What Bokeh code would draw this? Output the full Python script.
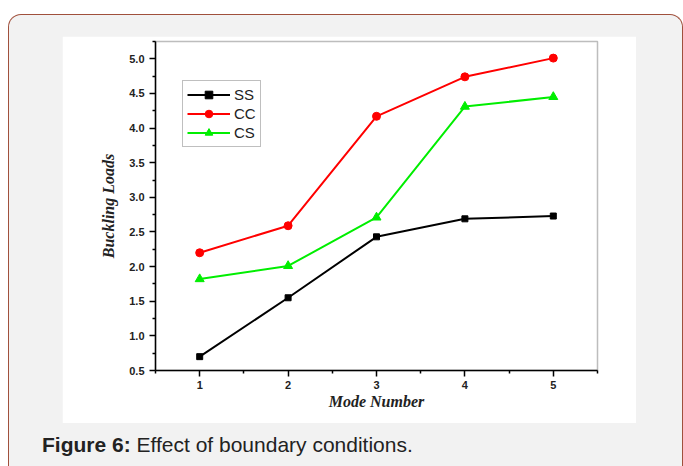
from bokeh.plotting import figure
from bokeh.models import Div, FixedTicker, PrintfTickFormatter
from bokeh.layouts import column
from bokeh.embed import file_html
from bokeh.resources import INLINE

modes = [1, 2, 3, 4, 5]
ss = [0.70, 1.55, 2.43, 2.69, 2.73]
cc = [2.20, 2.59, 4.17, 4.74, 5.01]
cs = [1.82, 2.01, 2.71, 4.31, 4.45]

x_major = [1, 2, 3, 4, 5]
x_minor = [0.5, 1.5, 2.5, 3.5, 4.5, 5.5]
y_major = [0.5, 1.0, 1.5, 2.0, 2.5, 3.0, 3.5, 4.0, 4.5, 5.0]
y_minor = [0.75, 1.25, 1.75, 2.25, 2.75, 3.25, 3.75, 4.25, 4.75, 5.25]

p = figure(width=574, height=387, x_range=(0.5, 5.5), y_range=(0.5, 5.25),
           output_backend="svg", toolbar_location=None,
           min_border_left=93, min_border_right=39, min_border_top=5, min_border_bottom=53,
           background_fill_color="white", border_fill_color="white",
           outline_line_color="#bdbdbd", outline_line_width=1.5)
p.grid.visible = False

p.xaxis.ticker = FixedTicker(ticks=x_major, minor_ticks=x_minor)
p.yaxis.ticker = FixedTicker(ticks=y_major, minor_ticks=y_minor)
p.yaxis.formatter = PrintfTickFormatter(format="%.1f")

for ax in (p.xaxis[0], p.yaxis[0]):
    ax.axis_line_color = "black"
    ax.axis_line_width = 1.5
    ax.major_tick_line_color = "black"
    ax.major_tick_line_width = 1.5
    ax.minor_tick_line_color = "black"
    ax.minor_tick_line_width = 1.5
    ax.major_tick_in = 0
    ax.major_tick_out = 6
    ax.minor_tick_in = 0
    ax.minor_tick_out = 3
    ax.major_label_text_font = "Liberation Sans"
    ax.major_label_text_font_style = "bold"
    ax.major_label_text_font_size = "11px"
    ax.major_label_text_color = "#222222"
    ax.axis_label_text_font = "Liberation Serif"
    ax.axis_label_text_font_style = "bold italic"
    ax.axis_label_text_font_size = "16px"
    ax.axis_label_text_color = "#222222"

p.xaxis.axis_label = "Mode Number"
p.yaxis.axis_label = "Buckling Loads"
p.xaxis.major_label_standoff = 4
p.xaxis.axis_label_standoff = 1
p.yaxis.major_label_standoff = 5
p.yaxis.axis_label_standoff = 9

series = [("SS", ss, "black", "square", 6),
          ("CC", cc, "#ff0000", "circle", 8),
          ("CS", cs, "#00ee00", "triangle", 9)]
for name, vals, col, mk, sz in series:
    p.line(modes, vals, line_color=col, line_width=2, legend_label=name)
    p.scatter(modes, vals, marker=mk, size=sz, fill_color=col, line_color=col, legend_label=name)

lg = p.legend[0]
lg.location = (27, 223)
lg.border_line_color = "#808080"
lg.border_line_width = 1.5
lg.background_fill_color = "white"
lg.background_fill_alpha = 1
lg.padding = 4
lg.spacing = 0
lg.margin = 0
lg.glyph_width = 43
lg.glyph_height = 19
lg.label_height = 19
lg.label_standoff = 4
lg.label_text_font = "Liberation Sans"
lg.label_text_font_size = "15px"
lg.label_text_color = "#222222"
p.margin = (21, 0, 0, 53)

caption = Div(text='<b>Figure 6:</b> Effect of boundary conditions.', width=620, height=30,
              styles={"font-family": "Liberation Sans, Arial, sans-serif", "font-size": "21px",
                      "color": "#222222", "white-space": "nowrap"})
caption.margin = (7, 0, 0, 33)

card = column(p, caption, width=675, height=452,
              styles={"background-color": "#f2f2f2", "border": "1.5px solid #a0503c",
                      "border-bottom": "none", "border-radius": "13px 13px 0 0",
                      "box-sizing": "border-box"})
card.margin = (14, 0, 0, 8)

open("out.html", "w").write(file_html(card, INLINE))
